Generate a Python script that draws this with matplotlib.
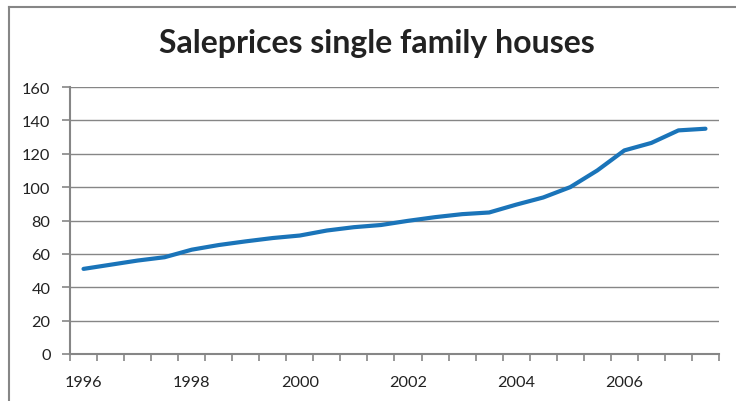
import matplotlib.pyplot as plt
from matplotlib.lines import Line2D

# half-year observations, 1996 H1 .. 2007 H2
periods = ["1996", "1996b", "1997", "1997b", "1998", "1998b", "1999", "1999b",
           "2000", "2000b", "2001", "2001b", "2002", "2002b", "2003", "2003b",
           "2004", "2004b", "2005", "2005b", "2006", "2006b", "2007", "2007b"]
prices = [51, 53.5, 56, 58, 62.5, 65.3, 67.5, 69.5,
          71, 74, 76, 77.3, 79.8, 82, 83.8, 84.8,
          89.5, 93.8, 100, 110, 122, 126.5, 134, 135]
shown_labels = ["1996", "1998", "2000", "2002", "2004", "2006"]

plt.rcParams['font.family'] = ['Lato', 'DejaVu Sans']
grey = '#868686'

fig = plt.figure(figsize=(7.36, 4.02), dpi=100)
ax = fig.add_axes([70 / 736, 1 - 355 / 402, 649 / 736, 267 / 402])

x = list(range(len(periods)))
ax.plot(x, prices, color='#1a74b9', linewidth=3.0, solid_joinstyle='round',
        solid_capstyle='round')

ax.set_xlim(-0.5, len(periods) - 0.5)
ax.set_ylim(0, 160)
ax.set_yticks(range(0, 161, 20))
ax.yaxis.grid(True, color=grey, linewidth=1)
ax.set_axisbelow(True)

# boundary ticks between categories, labels on every 4th category
ax.set_xticks([i - 0.5 for i in range(len(periods) + 1)])
ax.set_xticklabels([])
ax.set_xticks([periods.index(l) for l in shown_labels], minor=True)
ax.set_xticklabels(shown_labels, minor=True)
ax.tick_params(axis='x', which='major', length=5, width=1.2, color=grey, direction='out')
ax.tick_params(axis='x', which='minor', length=0, pad=15, labelsize=11.7, labelcolor='#222222')
ax.tick_params(axis='y', length=6, width=1.2, color=grey, pad=8, labelsize=11.7,
               labelcolor='#222222')

for side in ['top', 'right']:
    ax.spines[side].set_visible(False)
for side in ['left', 'bottom']:
    ax.spines[side].set_color(grey)
    ax.spines[side].set_linewidth(1.5)

fig.text(377 / 736, 1 - 53.5 / 402, "Saleprices single family houses", ha='center',
         va='baseline', fontsize=23, fontweight='bold', color='#222222')

# chart frame
fig.add_artist(Line2D([9 / 736, 1], [1 - 8 / 402, 1 - 8 / 402], color=grey, linewidth=1.5))
fig.add_artist(Line2D([9 / 736, 9 / 736], [0, 1 - 8 / 402], color=grey, linewidth=1.5))

fig.savefig('out.png', dpi=100)
